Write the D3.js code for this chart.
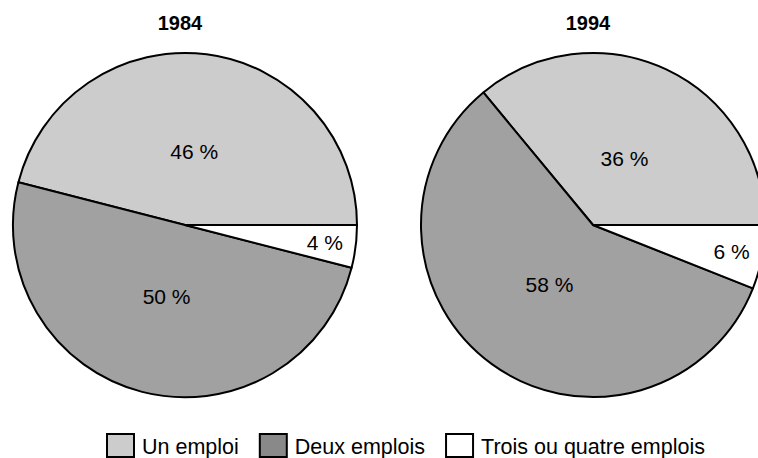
<!DOCTYPE html>
<html>
<head>
<meta charset="utf-8">
<script src="https://cdn.jsdelivr.net/npm/d3@7"></script>
<style>
  html, body { margin: 0; padding: 0; background: #ffffff; }
  svg { display: block; font-family: "Liberation Sans", Arial, sans-serif; }
</style>
</head>
<body>
<svg id="chart" width="758" height="458"></svg>
<script>
// ---- data ----
const categories = ["Un emploi", "Deux emplois", "Trois ou quatre emplois"];
const years = ["1984", "1994"];
const values1984 = [46, 50, 4];
const values1994 = [36, 58, 6];
const seriesValues = [values1984, values1994];

// ---- styles ----
const pieFill = d3.scaleOrdinal().domain(categories).range(["#cccccc", "#a1a1a1", "#ffffff"]);
const legendFill = d3.scaleOrdinal().domain(categories).range(["#cccccc", "#898989", "#ffffff"]);

const W = 758, H = 458;
const svg = d3.select("#chart");

const R = 172;
const centerX = d3.scalePoint().domain(years).range([185, 593]);
const cy = 225;

const pie = d3.pie()
  .sort(null)
  .value(d => d)
  .startAngle(Math.PI / 2)
  .endAngle(Math.PI / 2 - 2 * Math.PI);

const arc = d3.arc().innerRadius(0).outerRadius(R);

years.forEach((yr, i) => {
  const cx = centerX(yr);
  const g = svg.append("g").attr("transform", `translate(${cx},${cy})`);
  const arcs = pie(seriesValues[i]);

  g.selectAll("path.slice")
    .data(arcs)
    .join("path")
    .attr("class", "slice")
    .attr("d", arc)
    .attr("fill", (d, j) => pieFill(categories[j]))
    .attr("stroke", "#000")
    .attr("stroke-width", 2)
    .attr("stroke-linejoin", "round");

  g.selectAll("text.lbl")
    .data(arcs)
    .join("text")
    .attr("class", "lbl")
    .attr("transform", d => {
      const frac = (d.value / 100) < 0.1 ? 0.82 : 0.43;
      const a = (d.startAngle + d.endAngle) / 2;
      const r = R * frac;
      return `translate(${r * Math.sin(a)},${-r * Math.cos(a)})`;
    })
    .attr("text-anchor", "middle")
    .attr("dy", "0.36em")
    .attr("font-size", 21)
    .attr("fill", "#000")
    .text(d => d.value + " %");

  svg.append("text")
    .attr("x", cx - 5)
    .attr("y", 30)
    .attr("text-anchor", "middle")
    .attr("font-size", 20)
    .attr("font-weight", "bold")
    .attr("fill", "#000")
    .text(yr);
});

// ---- legend ----
const legend = svg.append("g");
let lx = 107;
const sqW = 27, sqH = 23, ly = 434;
categories.forEach(c => {
  legend.append("rect")
    .attr("x", lx).attr("y", ly)
    .attr("width", sqW).attr("height", sqH)
    .attr("fill", legendFill(c))
    .attr("stroke", "#000")
    .attr("stroke-width", 2);
  const t = legend.append("text")
    .attr("x", lx + sqW + 8)
    .attr("y", ly + 20)
    .attr("font-size", 21.5)
    .attr("fill", "#000")
    .text(c);
  const tw = t.node().getComputedTextLength();
  lx = lx + sqW + 8 + tw + 21;
});
</script>
</body>
</html>
